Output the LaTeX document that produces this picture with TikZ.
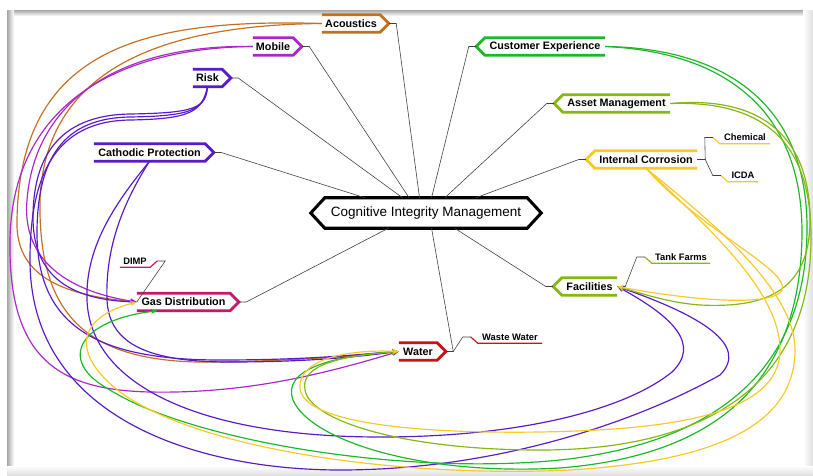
\documentclass[tikz,border=0pt]{standalone}
\usepackage{fontspec}
\setmainfont{Liberation Sans}
\usepackage{tikz}
\usetikzlibrary{arrows.meta,calc}

\definecolor{acoucol}{RGB}{196,112,32}
\definecolor{mobcol}{RGB}{170,40,198}
\definecolor{riskcol}{RGB}{90,26,200}
\definecolor{gascol}{RGB}{196,26,108}
\definecolor{watercol}{RGB}{196,22,22}
\definecolor{custcol}{RGB}{28,184,40}
\definecolor{assetcol}{RGB}{134,184,18}
\definecolor{corrcol}{RGB}{250,202,36}

\newcommand{\tiplen}{0.26cm}
\newcommand{\hooklen}{0.21cm}

\tikzset{
  topic/.style={
    rectangle, inner xsep=1pt, inner ysep=0pt, minimum height=0.51cm,
    font=\fontsize{9.2}{11}\selectfont\bfseries
  },
  subtopic/.style={
    rectangle, inner xsep=2pt, inner ysep=0pt, minimum height=0.36cm,
    font=\fontsize{8}{10}\selectfont\bfseries
  },
  hubbox/.style={
    rectangle, inner sep=0pt, minimum width=6.06cm, minimum height=0.9cm,
    font=\fontsize{11.5}{14}\selectfont
  },
  tagline/.style={line width=2.4pt},
  hubline/.style={line width=2.6pt, black},
  subline/.style={line width=1pt},
  stemline/.style={line width=0.5pt, black!75},
  xlink/.style={line width=1pt, -{Stealth[length=5.5pt,width=4.5pt]}}
}

\begin{document}
\begin{tikzpicture}[x=0.03cm, y=-0.03cm]
\useasboundingbox (0,0) rectangle (813,475);

% Frame
\fill[white] (0,0) rectangle (813,475);
\shade[top color=gray!70, bottom color=white] (7,10) rectangle (813,16);
\shade[left color=gray!70, right color=white] (7,10) rectangle (14,475);
\shade[left color=white, right color=gray!25] (803,10) rectangle (813,475);
\shade[top color=white, bottom color=gray!25] (7,466) rectangle (813,475);

% Central topic
\node[hubbox] (hub) at (426,213) {Cognitive Integrity Management};

% Left topics
\node[topic, minimum width=1.74cm] (acou) at (351,23.5) {Acoustics};
\node[topic, minimum width=1.2cm] (mob) at (273,46.5) {Mobile};
\node[topic, minimum width=0.87cm] (risk) at (207.5,78) {Risk};
\node[topic, minimum width=3.33cm] (cath) at (149.5,152.5) {Cathodic Protection};
\node[topic, minimum width=2.79cm] (gas) at (183.5,302) {Gas Distribution};
\node[topic, minimum width=1.14cm] (water) at (418,351.5) {Water};

% Right topics
\node[topic, minimum width=3.6cm] (cust) at (545,46.5) {Customer Experience};
\node[topic, minimum width=3.21cm] (asset) at (616.5,103.5) {Asset Management};
\node[topic, minimum width=3.06cm] (corr) at (646,159.5) {Internal Corrosion};
\node[topic, minimum width=1.65cm] (fac) at (589.5,286.5) {Facilities};

% Subtopics
\node[subtopic, minimum width=1.5cm] (chem) at (745,137.5) {Chemical};
\node[subtopic, minimum width=0.9cm] (icda) at (743,175.5) {ICDA};
\node[subtopic, minimum width=1.74cm] (tank) at (681,257) {Tank Farms};
\node[subtopic, minimum width=1.92cm] (waste) at (510,337) {Waste Water};
\node[subtopic, minimum width=0.9cm] (dimp) at (135,261) {DIMP};

% Outlines
\draw[hubline] (hub.north west) -- (hub.north east) -- ([xshift=0.42cm]hub.east)
  -- (hub.south east) -- (hub.south west) -- ([xshift=-0.42cm]hub.west) -- cycle;

\foreach \n/\c in {acou/acoucol, mob/mobcol, risk/riskcol, cath/riskcol, gas/gascol, water/watercol}
  \draw[tagline, draw=\c] (\n.north west) -- (\n.north east)
    -- ([xshift=\tiplen]\n.east) -- (\n.south east) -- (\n.south west);

\foreach \n/\c in {cust/custcol, asset/assetcol, corr/corrcol, fac/assetcol}
  \draw[tagline, draw=\c] (\n.north east) -- (\n.north west)
    -- ([xshift=-\tiplen]\n.west) -- (\n.south west) -- (\n.south east);

\foreach \n/\c in {chem/corrcol, icda/corrcol, tank/assetcol, waste/watercol}
  \draw[subline, draw=\c] (\n.south east) -- (\n.south west) -- ([xshift=-\hooklen]\n.west);
\draw[subline, gascol] (dimp.south west) -- (dimp.south east) -- ([xshift=\hooklen]dimp.east);

% ── Stems ───────────────────────────────────────────────────────────────
\draw[stemline] ([xshift=\tiplen]acou.east) -- ++(0.22cm,0) -- (hub.113);
\draw[stemline] ([xshift=\tiplen]mob.east) -- ++(0.22cm,0) -- (hub.138);
\draw[stemline] ([xshift=\tiplen]risk.east) -- ++(0.22cm,0) -- (hub.147);
\draw[stemline] ([xshift=\tiplen]cath.east) -- ++(0.22cm,0) -- (hub.166);
\draw[stemline] ([xshift=\tiplen]gas.east) -- ++(0.22cm,0) -- (hub.202);
\draw[stemline] ([xshift=\tiplen]water.east) -- ++(0.22cm,0) -- (hub.290);
\draw[stemline] ([xshift=-\tiplen]cust.west) -- ++(-0.22cm,0) -- (hub.70);
\draw[stemline] ([xshift=-\tiplen]asset.west) -- ++(-0.22cm,0) -- (hub.39);
\draw[stemline] ([xshift=-\tiplen]corr.west) -- ++(-0.22cm,0) -- (hub.17);
\draw[stemline] ([xshift=-\tiplen]fac.west) -- ++(-0.22cm,0) -- (hub.332);

\draw[stemline] (corr.east) -- ++(0.24cm,0) -- ([xshift=-0.45cm]chem.west) -- ([xshift=-\hooklen]chem.west);
\draw[stemline] (corr.east) -- ++(0.24cm,0) -- ([xshift=-0.45cm]icda.west) -- ([xshift=-\hooklen]icda.west);
\draw[stemline] (fac.east) -- ++(0.24cm,0) -- ([xshift=-0.45cm]tank.west) -- ([xshift=-\hooklen]tank.west);
\draw[stemline] ([xshift=\tiplen]water.east) -- ++(0.22cm,0) -- ([xshift=-0.45cm]waste.west) -- ([xshift=-\hooklen]waste.west);
\draw[stemline] (gas.west) -- ([xshift=0.45cm]dimp.east) -- ([xshift=\hooklen]dimp.east);

% ── Relationships ───────────────────────────────────────────────────────
% Acoustics
\draw[xlink, acoucol] (acou.west) .. controls (140,18) and (20,50) .. (17,220)
  .. controls (15,275) and (60,295) .. (gas.west);
\draw[xlink, acoucol] (acou.west) .. controls (160,25) and (45,70) .. (40,200)
  .. controls (38,320) and (90,365) .. (220,362)
  .. controls (320,360) and (370,354) .. (water.west);

% Mobile
\draw[xlink, mobcol] (mob.west) .. controls (120,44) and (35,100) .. (27,200)
  .. controls (22,255) and (60,290) .. (gas.west);
\draw[xlink, mobcol] (mob.west) .. controls (110,48) and (12,110) .. (10,240)
  .. controls (8,360) and (60,390) .. (150,392)
  .. controls (250,394) and (330,372) .. (water.west);

% Risk
\draw[xlink, riskcol] (risk.south) .. controls (206,108) and (195,113) .. (130,114)
  .. controls (65,115) and (34,150) .. (33,215)
  .. controls (32,280) and (75,300) .. (gas.west);
\draw[xlink, riskcol] (risk.south) .. controls (204,110) and (192,116) .. (130,117)
  .. controls (62,118) and (38,160) .. (37,230)
  .. controls (36,325) and (95,360) .. (220,360)
  .. controls (320,360) and (370,353) .. (water.west);
\draw[xlink, riskcol] (risk.south) .. controls (202,112) and (190,119) .. (130,120)
  .. controls (55,121) and (30,175) .. (30,260)
  .. controls (30,420) and (200,470) .. (340,470)
  .. controls (500,470) and (640,420) .. (720,375)
  .. controls (750,345) and (700,315) .. (fac.east);

% Cathodic Protection
\draw[xlink, riskcol] (cath.south) .. controls (125,200) and (105,245) .. (107,300)
  .. controls (109,345) and (150,362) .. (230,362)
  .. controls (320,362) and (370,355) .. (water.west);
\draw[xlink, riskcol] (cath.south) .. controls (118,200) and (85,245) .. (87,300)
  .. controls (90,385) and (200,437) .. (380,437)
  .. controls (520,437) and (625,410) .. (672,372)
  .. controls (700,345) and (675,318) .. (fac.east);

% Customer Experience
\draw[xlink, custcol] (cust.east) .. controls (720,48) and (808,100) .. (807,230)
  .. controls (806,350) and (740,440) .. (560,460)
  .. controls (400,476) and (190,440) .. (110,390)
  .. controls (55,360) and (80,320) .. ($(gas.south west)!.22!(gas.south east)$);
\draw[xlink, custcol] (cust.east) .. controls (725,52) and (803,110) .. (802,235)
  .. controls (800,380) and (720,455) .. (560,468)
  .. controls (420,476) and (310,440) .. (293,400)
  .. controls (282,370) and (330,356) .. (water.west);

% Asset Management
\draw[xlink, assetcol] (asset.east) .. controls (765,95) and (810,140) .. (810,220)
  .. controls (810,295) and (760,308) .. (700,305)
  .. controls (670,303) and (640,293) .. (fac.east);
\draw[xlink, assetcol] (asset.east) .. controls (772,100) and (812,150) .. (811,240)
  .. controls (810,390) and (700,450) .. (540,450)
  .. controls (400,450) and (310,420) .. (305,390)
  .. controls (300,365) and (340,356) .. (water.west);

% Internal Corrosion
\draw[xlink, corrcol] (corr.south) .. controls (700,230) and (790,270) .. (782,290)
  .. controls (774,306) and (700,302) .. (fac.east);
\draw[xlink, corrcol] (corr.south) .. controls (705,225) and (780,290) .. (780,350)
  .. controls (780,420) and (650,430) .. (540,432)
  .. controls (400,434) and (302,420) .. (300,388)
  .. controls (298,362) and (340,349) .. (water.west);
\draw[xlink, corrcol] (corr.south) .. controls (712,222) and (795,290) .. (795,350)
  .. controls (795,432) and (700,462) .. (570,470)
  .. controls (400,478) and (200,450) .. (120,392)
  .. controls (72,355) and (75,318) .. (gas.west);

\end{tikzpicture}
\end{document}
